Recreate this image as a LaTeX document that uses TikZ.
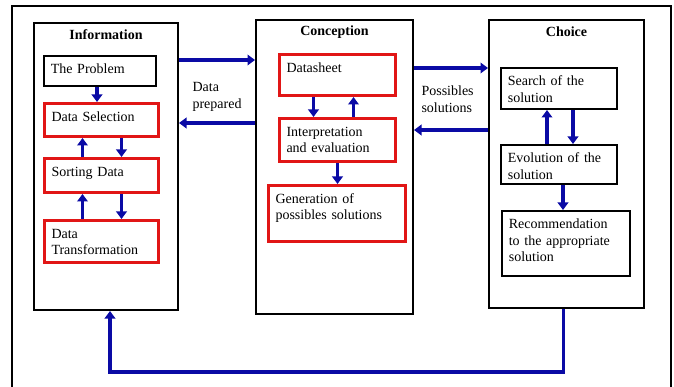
\documentclass[tikz,border=0pt]{standalone}
\usepackage{fontspec}
\setmainfont{Liberation Serif}
\usetikzlibrary{arrows.meta}
\usetikzlibrary{positioning}
\definecolor{flowblue}{RGB}{10,10,165}
\definecolor{boxred}{RGB}{225,22,22}
\tikzstyle{frame}=[draw=black, line width=2pt, anchor=north west, inner sep=0pt]
\tikzstyle{task}=[draw=black, line width=1.6pt, anchor=north west, align=left, inner xsep=7pt, inner ysep=3pt, text height=15pt]
\tikzstyle{redtask}=[task, draw=boxred, line width=3pt]
\tikzstyle{title}=[font=\fontsize{14}{16.5}\selectfont\bfseries]
\tikzstyle{flow}=[draw=flowblue, line width=3.3pt, ->]
\tikzset{>={Triangle[length=7.5pt,width=10.5pt]}}

\begin{document}
\begin{tikzpicture}[x=1pt, y=-1pt, font=\fontsize{14}{16.5}\selectfont]
        \useasboundingbox (0,0) rectangle (674,387);
        \fill[white] (0,0) rectangle (674,387);
        \draw[line width=1.5pt] (12,387) -- (12,6) -- (671,6) -- (671,387);

        % Blocks
        \node[frame, minimum width=144pt, minimum height=287pt] (info) at (33,22) {};
        \node[frame, minimum width=157pt, minimum height=294pt] (conc) at (255,19) {};
        \node[frame, minimum width=155pt, minimum height=288pt] (choice) at (488,19) {};

        \node[title] (infotitle) at ([yshift=-13pt]info.north) {Information};
        \node[title] (conctitle) at ([yshift=-13pt]conc.north) {Conception};
        \node[title] (choicetitle) at ([yshift=-13pt]choice.north) {Choice};

        % Information
        \node[task, text width=98.4pt, text depth=9.4pt] (prob) at (43,55) {The Problem};
        \node[redtask, text width=100pt, text depth=12pt] (sel) at (43,102) {Data Selection};
        \node[redtask, text width=100pt, text depth=13pt] (sort) at (43,157) {Sorting Data};
        \node[redtask, text width=100pt, text depth=21pt] (trans) at (43,219) {Data\\Transformation};

        % Conception
        \node[redtask, text width=102pt, text depth=20pt] (sheet) at (278,53) {Datasheet};
        \node[redtask, text width=102pt, text depth=22pt] (interp) at (278,117) {Interpretation\\and evaluation};
        \node[redtask, text width=123pt, text depth=35pt] (gen) at (267,184) {Generation of\\possibles solutions};

        % Choice
        \node[task, text width=102.4pt, text depth=20.4pt] (search) at (500,67) {Search of the\\solution};
        \node[task, text width=102.4pt, text depth=18.4pt] (evol) at (500,144) {Evolution of the\\solution};
        \node[task, text width=114.4pt, text depth=44.4pt] (rec) at (501,210) {Recommendation\\to the appropriate\\solution};

        % Text
        \node[align=left, anchor=west] (dprep) at (189,97) {Data\\prepared};
        \node[align=left, anchor=west] (psol) at (418,99) {Possibles\\solutions};

        % Arrows inside the blocks
        \draw[flow] ([xshift=-3pt]prob.south) -- ([xshift=-3pt]prob.south |- sel.north);
        \foreach \a/\b in {sel/sort, sort/trans} {
          \draw[flow] ([xshift=-19pt]\b.north) -- ([xshift=-19pt]\b.north |- \a.south);
          \draw[flow] ([xshift=20pt]\a.south) -- ([xshift=20pt]\a.south |- \b.north);
        }
        \draw[flow] ([xshift=-24pt]sheet.south) -- ([xshift=-24pt]sheet.south |- interp.north);
        \draw[flow] ([xshift=16pt]interp.north) -- ([xshift=16pt]interp.north |- sheet.south);
        \draw[flow] (interp.south) -- (interp.south |- gen.north);
        \draw[flow] ([xshift=-12pt]evol.north) -- ([xshift=-12pt]evol.north |- search.south);
        \draw[flow] ([xshift=14pt]search.south) -- ([xshift=14pt]search.south |- evol.north);
        \draw[flow] ([xshift=4pt]evol.south) -- ([xshift=4pt]evol.south |- rec.north);

        % Arrows between the blocks
        \draw[flow] (info.east |- 0,60) -- (conc.west |- 0,60);
        \draw[flow] (conc.west |- 0,123) -- (info.east |- 0,123);
        \draw[flow] (conc.east |- 0,68) -- (choice.west |- 0,68);
        \draw[flow] (choice.west |- 0,130) -- (conc.east |- 0,130);

        \coordinate (back) at (110,372);
        \draw[flow] ([xshift=-3pt]choice.south) |- (back) -- (back |- info.south);
      \end{tikzpicture}
\end{document}
